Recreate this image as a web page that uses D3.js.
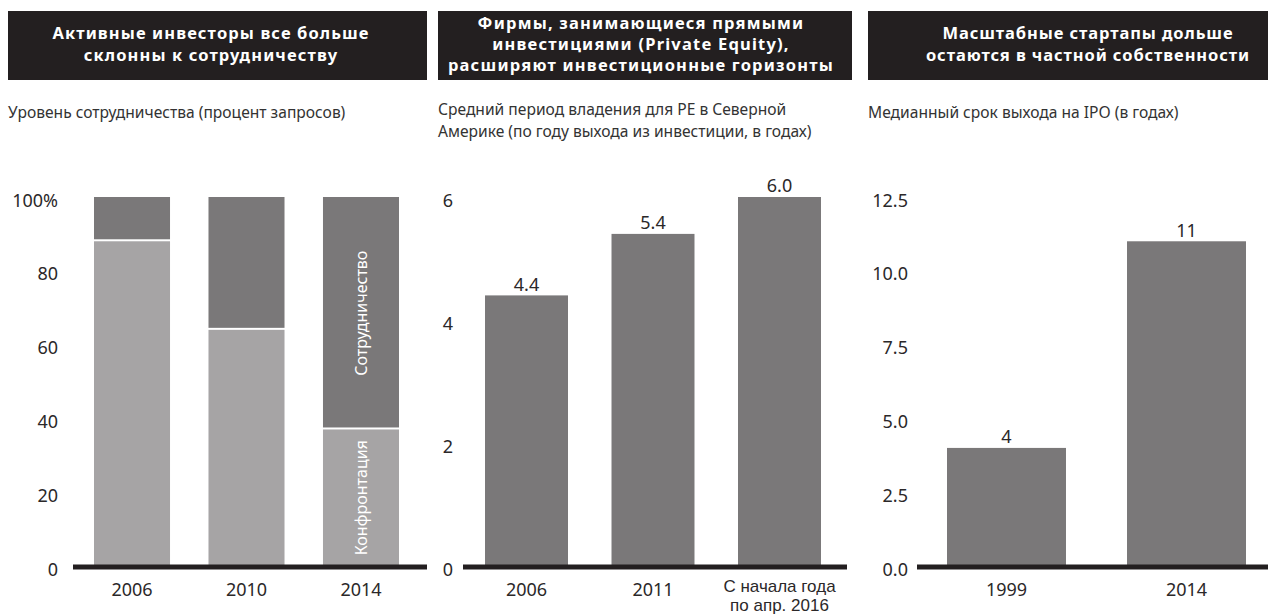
<!DOCTYPE html>
<html>
<head>
<meta charset="utf-8">
<script src="https://cdn.jsdelivr.net/npm/d3@7"></script>
<style>
  body { margin: 0; background: #fff; }
  svg { display: block; font-family: 'Noto Sans', sans-serif; }
  .tick text { fill: #2b2829; }
</style>
</head>
<body>
<svg id="chart" width="1268" height="615"></svg>
<script>
// Panel 1 — collaboration level (share of requests)
const collabYears = ['2006', '2010', '2014']
const confrontation = [88, 64, 37]
const collaboration = [12, 36, 63]
const collabTicks = [0, 20, 40, 60, 80, 100]

// Panel 2 — average PE holding period, years
const holdYears = ['2006', '2011', 'С начала года|по апр. 2016']
const holdValues = [4.4, 5.4, 6.0]
const holdLabels = ['4.4', '5.4', '6.0']
const holdTicks = [0, 2, 4, 6]

// Panel 3 — median time to IPO, years
const ipoYears = ['1999', '2014']
const ipoValues = [4, 11]
const ipoLabels = ['4', '11']
const ipoTicks = [0, 2.5, 5, 7.5, 10, 12.5]

const titles = [
  ['Активные инвесторы все больше', 'склонны к сотрудничеству'],
  ['Фирмы, занимающиеся прямыми', 'инвестициями (Private Equity),', 'расширяют инвестиционные горизонты'],
  ['Масштабные стартапы дольше', 'остаются в частной собственности']
]
const subtitles = [
  ['Уровень сотрудничества (процент запросов)'],
  ['Средний период владения для PE в Северной', 'Америке (по году выхода из инвестиции, в годах)'],
  ['Медианный срок выхода на IPO (в годах)']
]

const LIGHT = '#a6a4a5'
const DARK = '#7a7879'
const INK = '#231f20'
const svg = d3.select('#chart')

const y0 = 566
const yTop = 197

// panel geometry: header box, text centre, subtitle x/y, axis label edge, axis line, band range
const panels = [
  { box: [8, 427], tx: 211, sx: 8, sy: 113, labelX: 58, line: [73, 427], range: [75, 418], pi: 0.336, po: 0.166, lineGap: 22, titleY: 33, ls: 1.1 },
  { box: [438, 852], tx: 641, sx: 438, sy: 110, labelX: 453, line: [463, 847], range: [463, 843], pi: 0.344, po: 0.174, lineGap: 21, titleY: 23, ls: 1.2 },
  { box: [868, 1268], tx: 1088, sx: 868, sy: 113, labelX: 908, line: [917, 1268], range: [917, 1276], pi: 0.339, po: 0.1667, lineGap: 22, titleY: 33, ls: 0.9 }
]

panels.forEach((p, i) => {
  svg.append('rect')
    .attr('x', p.box[0]).attr('y', 11)
    .attr('width', p.box[1] - p.box[0]).attr('height', 69)
    .attr('fill', INK)
  titles[i].forEach((line, k) => {
    svg.append('text')
      .attr('x', p.tx).attr('y', p.titleY + k * p.lineGap)
      .attr('dy', '0.35em')
      .attr('text-anchor', 'middle')
      .attr('fill', '#fff')
      .attr('font-weight', 700)
      .attr('font-size', 16.5)
      .attr('letter-spacing', p.ls)
      .text(line)
  })
  subtitles[i].forEach((line, k) => {
    svg.append('text')
      .attr('x', p.sx).attr('y', p.sy + k * 22)
      .attr('dy', '0.35em')
      .attr('fill', '#333')
      .attr('font-size', 15.6)
      .text(line)
  })
})

function yAxis (p, scale, ticks, fmt) {
  const g = svg.append('g')
    .attr('transform', `translate(${p.labelX},0)`)
    .call(d3.axisLeft(scale).tickValues(ticks).tickSize(0).tickPadding(0).tickFormat(fmt))
  g.select('.domain').remove()
  g.selectAll('text').attr('font-size', 18).attr('dy', '0.5em').attr('font-family', 'Noto Sans')
}

function xAxis (p, scale) {
  const g = svg.append('g')
    .attr('transform', `translate(0,${y0})`)
    .call(d3.axisBottom(scale).tickSize(0).tickPadding(0))
  g.select('.domain').remove()
  g.selectAll('text').each(function (d) {
    const parts = d.split('|')
    const t = d3.select(this).text('').attr('dy', null)
    if (parts.length === 1) {
      t.attr('font-size', 18).attr('font-family', 'Noto Sans')
        .append('tspan').attr('x', 0).attr('y', 24).attr('dy', '0.35em').text(parts[0])
    } else {
      // two-line label: tighter font so both lines fit above the bottom edge
      t.attr('font-size', 17).attr('font-family', 'Liberation Sans')
      parts.forEach((part, k) => {
        t.append('tspan').attr('x', 0).attr('y', 20 + k * 19).attr('dy', '0.35em').text(part)
      })
    }
  })
}

function baseLine (p) {
  svg.append('line')
    .attr('x1', p.line[0]).attr('x2', p.line[1])
    .attr('y1', y0 + 1).attr('y2', y0 + 1)
    .attr('stroke', INK).attr('stroke-width', 5)
}

// Panel 1: stacked bars
{
  const p = panels[0]
  const x = d3.scaleBand().domain(collabYears).range(p.range).paddingInner(p.pi).paddingOuter(p.po)
  const y = d3.scaleLinear().domain([0, 100]).range([y0, yTop])
  const g = svg.append('g')
  collabYears.forEach((yr, j) => {
    g.append('rect')
      .attr('x', x(yr)).attr('width', x.bandwidth())
      .attr('y', y(confrontation[j])).attr('height', y(0) - y(confrontation[j]))
      .attr('fill', LIGHT)
    g.append('rect')
      .attr('x', x(yr)).attr('width', x.bandwidth())
      .attr('y', y(100)).attr('height', y(100 - collaboration[j]) - y(100) - 2)
      .attr('fill', DARK)
  })
  const last = collabYears[collabYears.length - 1]
  const cx = x(last) + x.bandwidth() / 2
  const lastConf = confrontation[confrontation.length - 1]
  const segLabels = [
    { text: 'Сотрудничество', mid: (y(100) + y(lastConf)) / 2 },
    { text: 'Конфронтация', mid: (y(lastConf) + y(0)) / 2 }
  ]
  segLabels.forEach(s => {
    g.append('text')
      .attr('transform', `translate(${cx},${s.mid}) rotate(-90)`)
      .attr('text-anchor', 'middle').attr('dy', '0.35em')
      .attr('fill', '#fff').attr('font-size', 16)
      .text(s.text)
  })
  yAxis(p, y, collabTicks, d => d === 100 ? '100%' : d)
  xAxis(p, x)
  baseLine(p)
}

// Panels 2 and 3: simple bars with value labels
function simpleBars (p, cats, vals, labels, ticks, fmt) {
  const x = d3.scaleBand().domain(cats).range(p.range).paddingInner(p.pi).paddingOuter(p.po)
  const y = d3.scaleLinear().domain([0, d3.max(ticks)]).range([y0, yTop])
  const g = svg.append('g')
  g.selectAll('rect').data(vals).join('rect')
    .attr('x', (d, j) => x(cats[j])).attr('width', x.bandwidth())
    .attr('y', d => y(d)).attr('height', d => y(0) - y(d))
    .attr('fill', DARK)
  g.selectAll('text').data(vals).join('text')
    .attr('x', (d, j) => x(cats[j]) + x.bandwidth() / 2)
    .attr('y', d => y(d) - 11)
    .attr('dy', '0.35em')
    .attr('text-anchor', 'middle')
    .attr('fill', '#2b2829').attr('font-size', 18)
    .text((d, j) => labels[j])
  yAxis(p, y, ticks, fmt)
  xAxis(p, x)
  baseLine(p)
}

simpleBars(panels[1], holdYears, holdValues, holdLabels, holdTicks, d3.format('d'))
simpleBars(panels[2], ipoYears, ipoValues, ipoLabels, ipoTicks, d3.format('.1f'))
</script>
</body>
</html>
